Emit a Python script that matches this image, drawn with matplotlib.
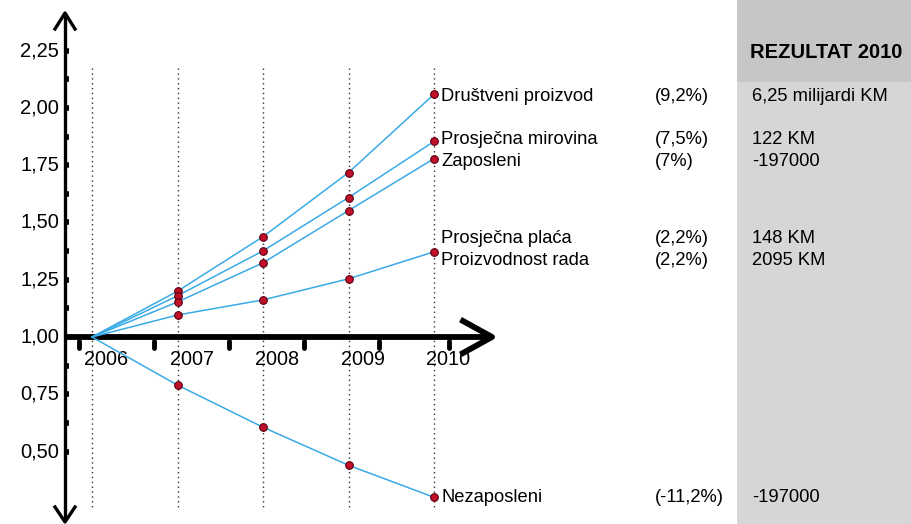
import numpy as np
import matplotlib.pyplot as plt

plt.rcParams['font.family'] = ['Liberation Sans', 'DejaVu Sans']

years = [2006, 2007, 2008, 2009, 2010]
drustveni = [1.00, 1.20, 1.438, 1.718, 2.06]
mirovina = [1.00, 1.18, 1.376, 1.609, 1.854]
zaposleni = [1.00, 1.153, 1.324, 1.552, 1.779]
placa = [1.00, 1.096, 1.162, 1.254, 1.372]
nezaposleni = [1.00, 0.79, 0.606, 0.44, 0.30]
series = [drustveni, mirovina, zaposleni, placa, nezaposleni]

labels = ['Društveni proizvod', 'Prosječna mirovina', 'Zaposleni',
          'Prosječna plaća', 'Proizvodnost rada', 'Nezaposleni']
label_y = [2.051, 1.861, 1.766, 1.431, 1.336, 0.301]
percents = ['(9,2%)', '(7,5%)', '(7%)', '(2,2%)', '(2,2%)', '(-11,2%)']
results = ['6,25 milijardi KM', '122 KM', '-197000', '148 KM', '2095 KM', '-197000']
yticks = [0.50, 0.75, 1.00, 1.25, 1.50, 1.75, 2.00, 2.25]

# pixel -> data mapping (figure is 912x524 px)
PX_X = 85.5   # px per year
PX_Y = 229.0  # px per unit
def dx(px):
    return 2006 + (px - 92) / PX_X
def dy(py):
    return 1 + (337 - py) / PX_Y

fig = plt.figure(figsize=(9.12, 5.24), dpi=100)
ax = fig.add_axes([0, 0, 1, 1])
ax.set_xlim(dx(0), dx(912))
ax.set_ylim(dy(524), dy(0))
ax.axis('off')

# right panel
ax.fill_between([dx(737), dx(912)], dy(82), dy(0), color='#c6c6c6', lw=0)
ax.fill_between([dx(737), dx(912)], dy(524), dy(82), color='#d6d6d6', lw=0)
ax.text(dx(750), dy(53), 'REZULTAT 2010', fontsize=14.5, fontweight='heavy',
        va='center', ha='left')

# dotted year lines
for yr in years:
    ax.plot([yr, yr], [dy(68), dy(510)], color='#333333', lw=1.0,
            ls=(0, (1, 2.5)), zorder=1)

# y axis
xa = dx(65)
ax.plot([xa, xa], [dy(14), dy(520)], color='black', lw=2.4, zorder=3,
        solid_capstyle='butt')
ax.plot([dx(55), xa, dx(75)], [dy(29), dy(13), dy(29)], color='black', lw=2.4,
        zorder=3)
ax.plot([dx(55), xa, dx(75)], [dy(507), dy(522), dy(507)], color='black', lw=2.4,
        zorder=3)
for v in np.arange(0.5, 2.26, 0.125):
    if abs(v - 1.0) < 1e-6:
        continue
    ax.plot([xa, dx(69)], [v, v], color='black', lw=4, zorder=3,
            solid_capstyle='butt')
for v in yticks:
    ax.text(dx(59), v, ('%.2f' % v).replace('.', ','), ha='right',
            va='center', fontsize=14.5)

# x axis
ax.plot([xa, dx(492)], [1, 1], color='black', lw=4.2, zorder=3,
        solid_capstyle='butt')
ax.plot([dx(463), dx(492), dx(463)], [dy(321), dy(337), dy(353)],
        color='black', lw=4.2, zorder=3)
for px in [79, 154, 229, 304, 379, 449]:
    ax.plot([dx(px), dx(px)], [dy(341), dy(348)], color='black', lw=3.5,
            solid_capstyle='round', zorder=3)
for yr in years:
    ax.text(yr + 14 / PX_X, dy(360), str(yr), ha='center', va='center',
            fontsize=14.3)

# data lines
for s in series:
    ax.plot(years, s, color='#3aaae6', lw=1.1, zorder=4)
    ax.plot(years[1:], s[1:], 'o', ms=5.5, mfc='#c0102a', mec='#5a0010',
            mew=0.8, zorder=5)

# labels
for lab, ly, pc, res in zip(labels, label_y, percents, results):
    ax.text(dx(441), ly, lab, ha='left', va='center', fontsize=13.2)
    ax.text(dx(655), ly, pc, ha='left', va='center', fontsize=13.2)
    ax.text(dx(752), ly, res, ha='left', va='center', fontsize=13.2)

fig.savefig('out.png', dpi=100)
